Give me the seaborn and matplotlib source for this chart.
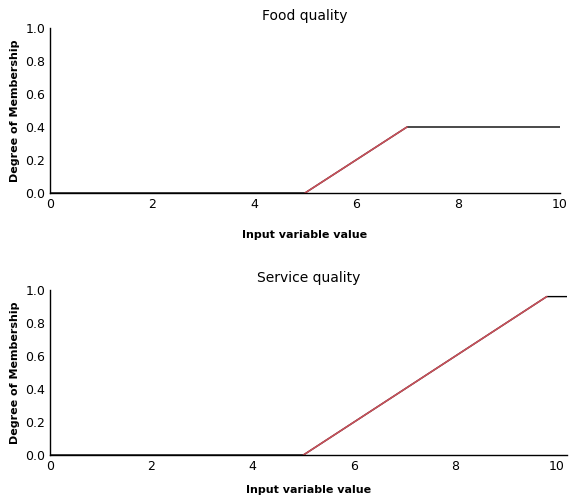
import matplotlib.pyplot as plt
import seaborn as sns

food_x = [0, 5, 7, 10]
food_y = [0, 0, 0.4, 0.4]
service_x = [0, 5, 9.8, 10.2]
service_y = [0, 0, 0.96, 0.96]

sns.set_style("white")
plt.rcParams["font.family"] = ["DejaVu Sans"]
plt.rcParams["text.color"] = "black"
plt.rcParams["axes.labelcolor"] = "black"
plt.rcParams["xtick.color"] = "black"
plt.rcParams["ytick.color"] = "black"

fig = plt.figure(figsize=(5.69, 4.98), dpi=100)
ax1 = fig.add_axes([50 / 569, 1 - 193 / 498, 510 / 569, 165 / 498])
ax2 = fig.add_axes([50 / 569, 1 - 455 / 498, 517 / 569, 165 / 498])

panels = [(ax1, food_x, food_y, "Food quality", 10, 14),
          (ax2, service_x, service_y, "Service quality", 10.2, 9)]
for ax, xs, ys, title, xmax, pad in panels:
    sns.lineplot(x=xs, y=ys, ax=ax, color="black", linewidth=1)
    sns.lineplot(x=xs[1:3], y=ys[1:3], ax=ax, color="#c8505a", linewidth=1.2)
    ax.set_xlim(0, xmax)
    ax.set_ylim(0, 1.0)
    ax.set_xticks([0, 2, 4, 6, 8, 10])
    ax.set_yticks([0, 0.2, 0.4, 0.6, 0.8, 1.0])
    ax.tick_params(direction="in", labelsize=9, length=4)
    sns.despine(ax=ax)
    for s in ("left", "bottom"):
        ax.spines[s].set_color("black")
        ax.spines[s].set_linewidth(1)
    ax.set_title(title, fontsize=10)
    ax.set_xlabel("Input variable value", fontsize=8, fontweight="bold", labelpad=pad)
    ax.set_ylabel("Degree of Membership", fontsize=8, fontweight="bold")

fig.savefig("out.png", dpi=100)
